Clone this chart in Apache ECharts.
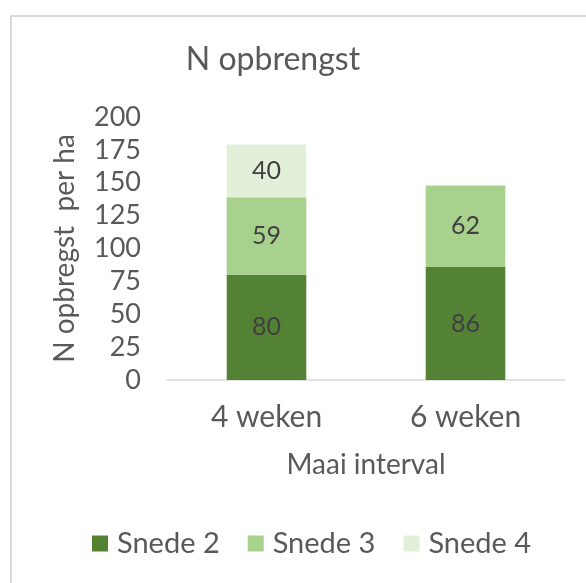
<!DOCTYPE html>
<html>
<head>
<meta charset="utf-8">
<script src="https://cdn.jsdelivr.net/npm/echarts@6/dist/echarts.min.js"></script>
<style>html,body{margin:0;padding:0;background:#fff;}#c{width:586px;height:583px;}</style>
</head>
<body>
<div id="c"></div>
<script>
const categories = ['4 weken', '6 weken'];
const snede2 = [80, 86];
const snede3 = [59, 62];
const snede4 = [40, null];
const seriesNames = ['Snede 2', 'Snede 3', 'Snede 4'];
const colors = ['#548235', '#A9D18E', '#E2F0D9'];
const yTicks = { min: 0, max: 200, interval: 25 };

const FONT = 'Lato';
const chart = echarts.init(document.getElementById('c'));
const lbl = { show: true, position: 'inside', color: '#404040', fontSize: 25, fontFamily: FONT };
chart.setOption({
  animation: false,
  textStyle: { fontFamily: FONT },
  graphic: [{
    type: 'rect', shape: { x: 11, y: 16, width: 700, height: 700 },
    style: { fill: 'none', stroke: '#d9d9d9', lineWidth: 2 }
  }],
  title: {
    text: 'N opbrengst', left: 268, top: 39, textAlign: 'center',
    textStyle: { fontFamily: FONT, fontSize: 32, fontWeight: 'normal', color: '#595959' }
  },
  legend: {
    bottom: 20, left: 87, itemWidth: 16, itemHeight: 16, itemGap: 28,
    icon: 'rect',
    textStyle: { fontFamily: FONT, fontSize: 29, color: '#595959', padding: [0, 0, 0, 4] },
    data: seriesNames
  },
  grid: { left: 167, right: 21, top: 117, bottom: 203 },
  xAxis: {
    type: 'category', data: categories,
    name: 'Maai interval', nameLocation: 'middle', nameGap: 71,
    nameTextStyle: { fontFamily: FONT, fontSize: 28, color: '#595959' },
    axisLine: { lineStyle: { color: '#d9d9d9', width: 1.5 } },
    axisTick: { show: false },
    axisLabel: { fontFamily: FONT, fontSize: 30, color: '#595959', margin: 22 }
  },
  yAxis: {
    type: 'value', min: yTicks.min, max: yTicks.max, interval: yTicks.interval,
    name: 'N opbregst  per ha', nameLocation: 'middle', nameGap: 88,
    nameTextStyle: { fontFamily: FONT, fontSize: 28, color: '#595959' },
    axisLine: { show: false }, axisTick: { show: false },
    splitLine: { show: false },
    axisLabel: { fontFamily: FONT, fontSize: 27, color: '#595959', margin: 26 }
  },
  series: [
    { name: seriesNames[0], type: 'bar', stack: 's', data: snede2, barWidth: '40%', itemStyle: { color: colors[0] }, label: lbl },
    { name: seriesNames[1], type: 'bar', stack: 's', data: snede3, barWidth: '40%', itemStyle: { color: colors[1] }, label: lbl },
    { name: seriesNames[2], type: 'bar', stack: 's', data: snede4, barWidth: '40%', itemStyle: { color: colors[2] }, label: lbl }
  ]
});
</script>
</body>
</html>
